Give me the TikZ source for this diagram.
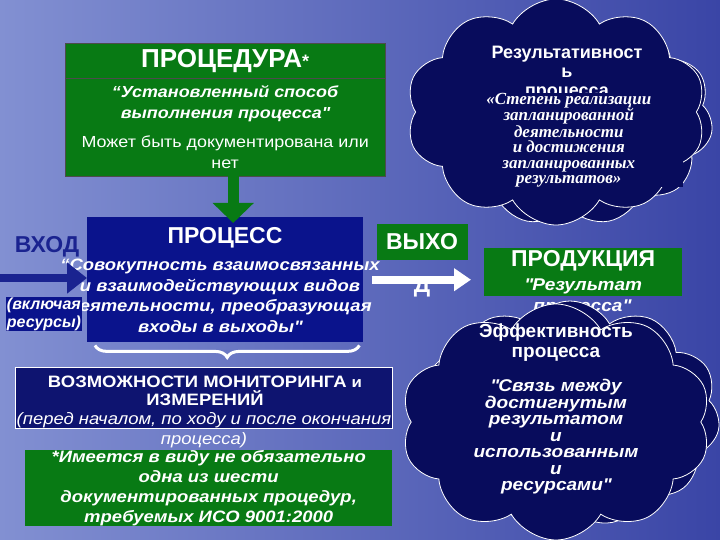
\documentclass[tikz,border=0pt]{standalone}
\usepackage{fontspec}
\setmainfont{Liberation Sans}
\newfontfamily\widesans{Liberation Sans}[FakeStretch=1.12]
\newfontfamily\timesit{Liberation Serif}
\usepackage{tikz}
\usetikzlibrary{positioning, shapes.symbols, arrows.meta, decorations.pathreplacing}
\definecolor{bgleft}{HTML}{8290D2}
\definecolor{bgright}{HTML}{3A45A6}
\definecolor{procgreen}{HTML}{087A14}
\definecolor{procblue}{HTML}{0A138C}
\definecolor{monblue}{HTML}{0E1470}
\definecolor{cloudblue}{HTML}{080C5C}
\definecolor{inblue}{HTML}{1A2390}
\newcommand{\qq}{\textquotedbl}

\begin{document}
\begin{tikzpicture}[x=1pt, y=-1pt,
    greenbox/.style={fill=procgreen, text=white, inner sep=0pt},
    cloudbox/.style={cloud, cloud puffs=10, cloud puff arc=120, cloud ignores aspect,
      draw=white, fill=cloudblue, line width=0.8pt, inner sep=0pt},
    whitetext/.style={text=white, align=center, inner sep=0pt}]
      % Background
      \shade[left color=bgleft, right color=bgright] (0,0) rectangle (720,540);
      \useasboundingbox (0,0) rectangle (720,540);
      % Procedure box
      \node[greenbox, draw=black!70, minimum width=320pt, minimum height=35pt, anchor=north west,
        font=\bfseries\fontsize{26}{28}\selectfont] (proctitle) at (65,43)
        {ПРОЦЕДУРА{\fontsize{18}{18}\selectfont*}};
      \node[greenbox, draw=black!70, minimum width=320pt, minimum height=98pt, anchor=north west,
        align=center, font=\widesans\fontsize{16}{21}\selectfont] (procbody) at (65,78)
        {\textbf{\textit{“Установленный способ}}\\ \textbf{\textit{выполнения процесса\qq}}\\[8pt]
         Может быть документирована или\\ нет};
      % Process box
      \node[fill=procblue, minimum width=276pt, minimum height=125pt, anchor=north west] (proc) at (87,217) {};
      \node[whitetext, font=\bfseries\fontsize{23}{24}\selectfont] (procname) at (225,238) {ПРОЦЕСС};
      \node[whitetext, font=\widesans\bfseries\itshape\fontsize{16.5}{20.5}\selectfont] (procdef) at (220,296)
        {“Совокупность взаимосвязанных\\ и  взаимодействующих видов\\ деятельности, преобразующая\\ входы в выходы\qq};
      % Arrow from procedure to process
      \draw[procgreen, line width=11pt, -{Triangle[length=20pt, width=40pt]}]
        ([xshift=8pt]procbody.south) -- ([xshift=8pt, yshift=-6pt]procbody.south |- proc.north);
      % Input
      \node[text=inblue, inner sep=0pt, font=\bfseries\fontsize{23}{24}\selectfont] (inname) at (47,247) {ВХОД};
      \coordinate (inleft) at (0,278);
      \draw[inblue, line width=8pt, -{Triangle[length=20pt, width=30pt]}] (inleft) -- (inleft -| proc.west);
      \node[fill=procblue, text=white, align=left, inner sep=1pt,
        font=\bfseries\itshape\fontsize{16}{18}\selectfont] (inres) at (44,314) {(включая\\ресурсы)};
      % Output
      \node[greenbox, minimum width=91pt, minimum height=35pt,
        font=\bfseries\fontsize{23}{24}\selectfont] (outname) at (422,242) {ВЫХО};
      \node[whitetext, font=\bfseries\fontsize{23}{24}\selectfont] (outtail) at (422,287) {Д};
      % Product
      \node[greenbox, minimum width=198pt, minimum height=48pt, anchor=north west, align=center,
        font=\fontsize{17}{24}\selectfont] (prod) at (484,248)
        {{\bfseries\fontsize{23}{24}\selectfont ПРОДУКЦИЯ}\\ {\widesans\bfseries\itshape \qq Результат}};
      \node[whitetext, font=\widesans\bfseries\itshape\fontsize{17}{18}\selectfont] (prodtail) at (582,307) {процесса\qq};
      \draw[white, line width=8pt, -{Triangle[length=17pt, width=22pt]}, shorten <=9pt, shorten >=13pt]
        (proc.east) -- (proc.east -| prod.west);
      % Brace under the process
      \draw[white, line width=3pt, decorate, decoration={brace, mirror, amplitude=12pt}]
        ([xshift=8pt, yshift=-3pt]proc.south west) -- ([xshift=-4pt, yshift=-3pt]proc.south east);
      % Monitoring box
      \node[draw=white, line width=0.6pt, fill=monblue, minimum width=377pt, minimum height=61pt,
        anchor=north west, inner sep=0pt] (monitor) at (15,367) {};
      \node[whitetext, font=\widesans\bfseries\fontsize{16.5}{18}\selectfont] (montitle) at (205,391)
        {ВОЗМОЖНОСТИ  МОНИТОРИНГА {\fontsize{15}{16}\selectfont и}\\ИЗМЕРЕНИЙ};
      \node[whitetext, font=\widesans\itshape\fontsize{16.5}{20}\selectfont] (monnote) at (204,430)
        {(перед началом, по ходу и после окончания\\процесса)};
      % Footnote box
      \node[greenbox, minimum width=367pt, minimum height=74pt, anchor=north west, align=center,
        font=\widesans\bfseries\itshape\fontsize{16.5}{20}\selectfont] (isonote) at (25,450)
        {*Имеется в виду не обязательно\\одна из шести\\документированных процедур,\\требуемых ИСО 9001:2000};
      % Cloud: effectiveness
      \node[cloudbox, cloud puffs=11, minimum width=290pt, minimum height=215pt] (resultback) at (568,118) {};
      \node[cloudbox, minimum width=300pt, minimum height=226pt] (resultcloud) at (556,112) {};
      \node[whitetext, font=\bfseries\fontsize{18}{19}\selectfont] (resulttitle) at (567,73)
        {Результативност\\ь\\процесса};
      \node[whitetext, fill=cloudblue, minimum width=228pt, minimum height=92pt, anchor=east,
        font=\timesit\bfseries\itshape\fontsize{17}{15.4}\selectfont] (resultdef) at (683,140)
        {«Степень реализации\\запланированной\\деятельности\\и достижения\\запланированных\\результатов»};
      % Cloud: efficiency
      \node[cloudbox, cloud puffs=11, minimum width=300pt, minimum height=226pt] (efficback) at (570,414) {};
      \node[cloudbox, minimum width=310pt, minimum height=236pt] (efficcloud) at (556,422) {};
      \node[whitetext, font=\bfseries\fontsize{19}{20}\selectfont] (effictitle) at (556,343)
        {Эффективность\\процесса};
      \node[whitetext, font=\widesans\bfseries\itshape\fontsize{17}{16.5}\selectfont] (efficdef) at (556,437)
        {\qq Связь между\\достигнутым\\результатом\\и\\использованным\\и\\ресурсами\qq};
\end{tikzpicture}
\end{document}
